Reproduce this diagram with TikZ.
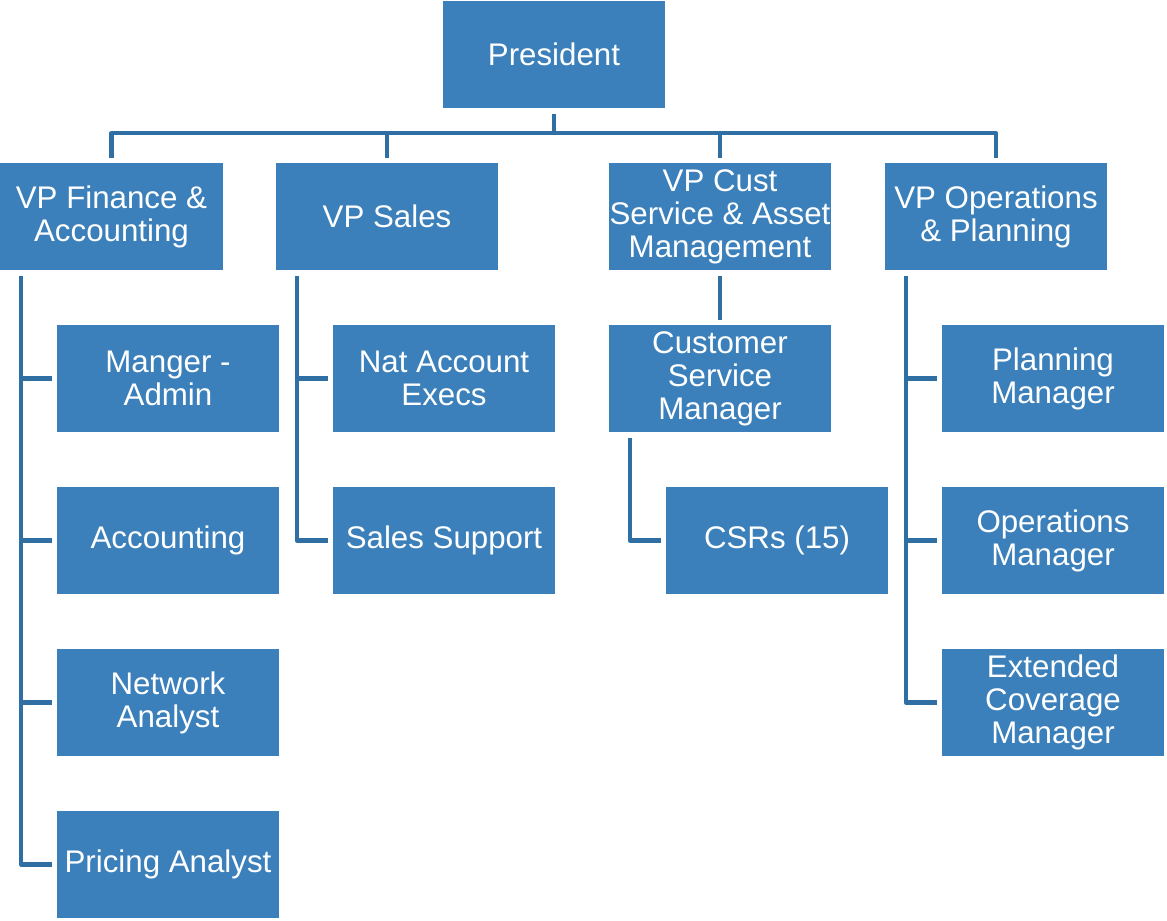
\documentclass[tikz,border=0pt]{standalone}
\usepackage{fontspec}
\setmainfont{Liberation Sans}
\usetikzlibrary{positioning}
\definecolor{boxblue}{HTML}{3B80BA}
\definecolor{linkblue}{HTML}{2F6FA4}
\tikzset{
  post/.style={
    rectangle,
    fill=boxblue,
    text=white,
    align=center,
    minimum width=4.44cm,
    minimum height=2.14cm,
    inner sep=0pt,
    font=\fontsize{17.8}{18.7}\selectfont
  },
  link/.style={
    draw=linkblue,
    line width=2.3pt,
    line join=round,
    shorten <=0.12cm,
    shorten >=0.1cm
  }
}

\begin{document}
\begin{tikzpicture}
  \useasboundingbox (0,0) rectangle (23.34,-18.42);

  % top
  \node[post] (pres) at (11.08,-1.09) {President};

  % vice presidents
  \node[post] (vpfin)   at (2.23,-4.33)  {VP Finance \&\\Accounting};
  \node[post] (vpsales) at (7.74,-4.33)  {VP Sales};
  \node[post] (vpcust)  at (14.40,-4.33) {VP Cust\\Service \& Asset\\Management};
  \node[post] (vpops)   at (19.92,-4.33) {VP Operations\\\& Planning};

  % finance & accounting
  \node[post] (admin)   at (3.36,-7.57)  {Manger -\\Admin};
  \node[post] (acct)    at (3.36,-10.81) {Accounting};
  \node[post] (netw)    at (3.36,-14.05) {Network\\Analyst};
  \node[post] (pricing) at (3.36,-17.29) {Pricing Analyst};

  % sales
  \node[post] (natacct)  at (8.88,-7.57)  {Nat Account\\Execs};
  \node[post] (salessup) at (8.88,-10.81) {Sales Support};

  % customer service
  \node[post] (csmgr) at (14.40,-7.57)  {Customer\\Service\\Manager};
  \node[post] (csrs)  at (15.54,-10.81) {CSRs (15)};

  % operations & planning
  \node[post] (planmgr) at (21.06,-7.57)  {Planning\\Manager};
  \node[post] (opsmgr)  at (21.06,-10.81) {Operations\\Manager};
  \node[post] (extmgr)  at (21.06,-14.05) {Extended\\Coverage\\Manager};

  % bus under the president
  \coordinate (bus) at (0,-2.66);
  \foreach \v in {vpfin,vpsales,vpcust,vpops}
    \draw[link] (pres.south) -- (pres.south |- bus) -| (\v.north);

  % spines down the left side of each group
  \foreach \c in {admin,acct,netw,pricing}
    \draw[link] ([xshift=0.42cm]vpfin.south west) |- (\c.west);
  \foreach \c in {natacct,salessup}
    \draw[link] ([xshift=0.42cm]vpsales.south west) |- (\c.west);
  \foreach \c in {planmgr,opsmgr,extmgr}
    \draw[link] ([xshift=0.42cm]vpops.south west) |- (\c.west);

  \draw[link] (vpcust) -- (csmgr);
  \draw[link] ([xshift=0.42cm]csmgr.south west) |- (csrs.west);
\end{tikzpicture}
\end{document}
